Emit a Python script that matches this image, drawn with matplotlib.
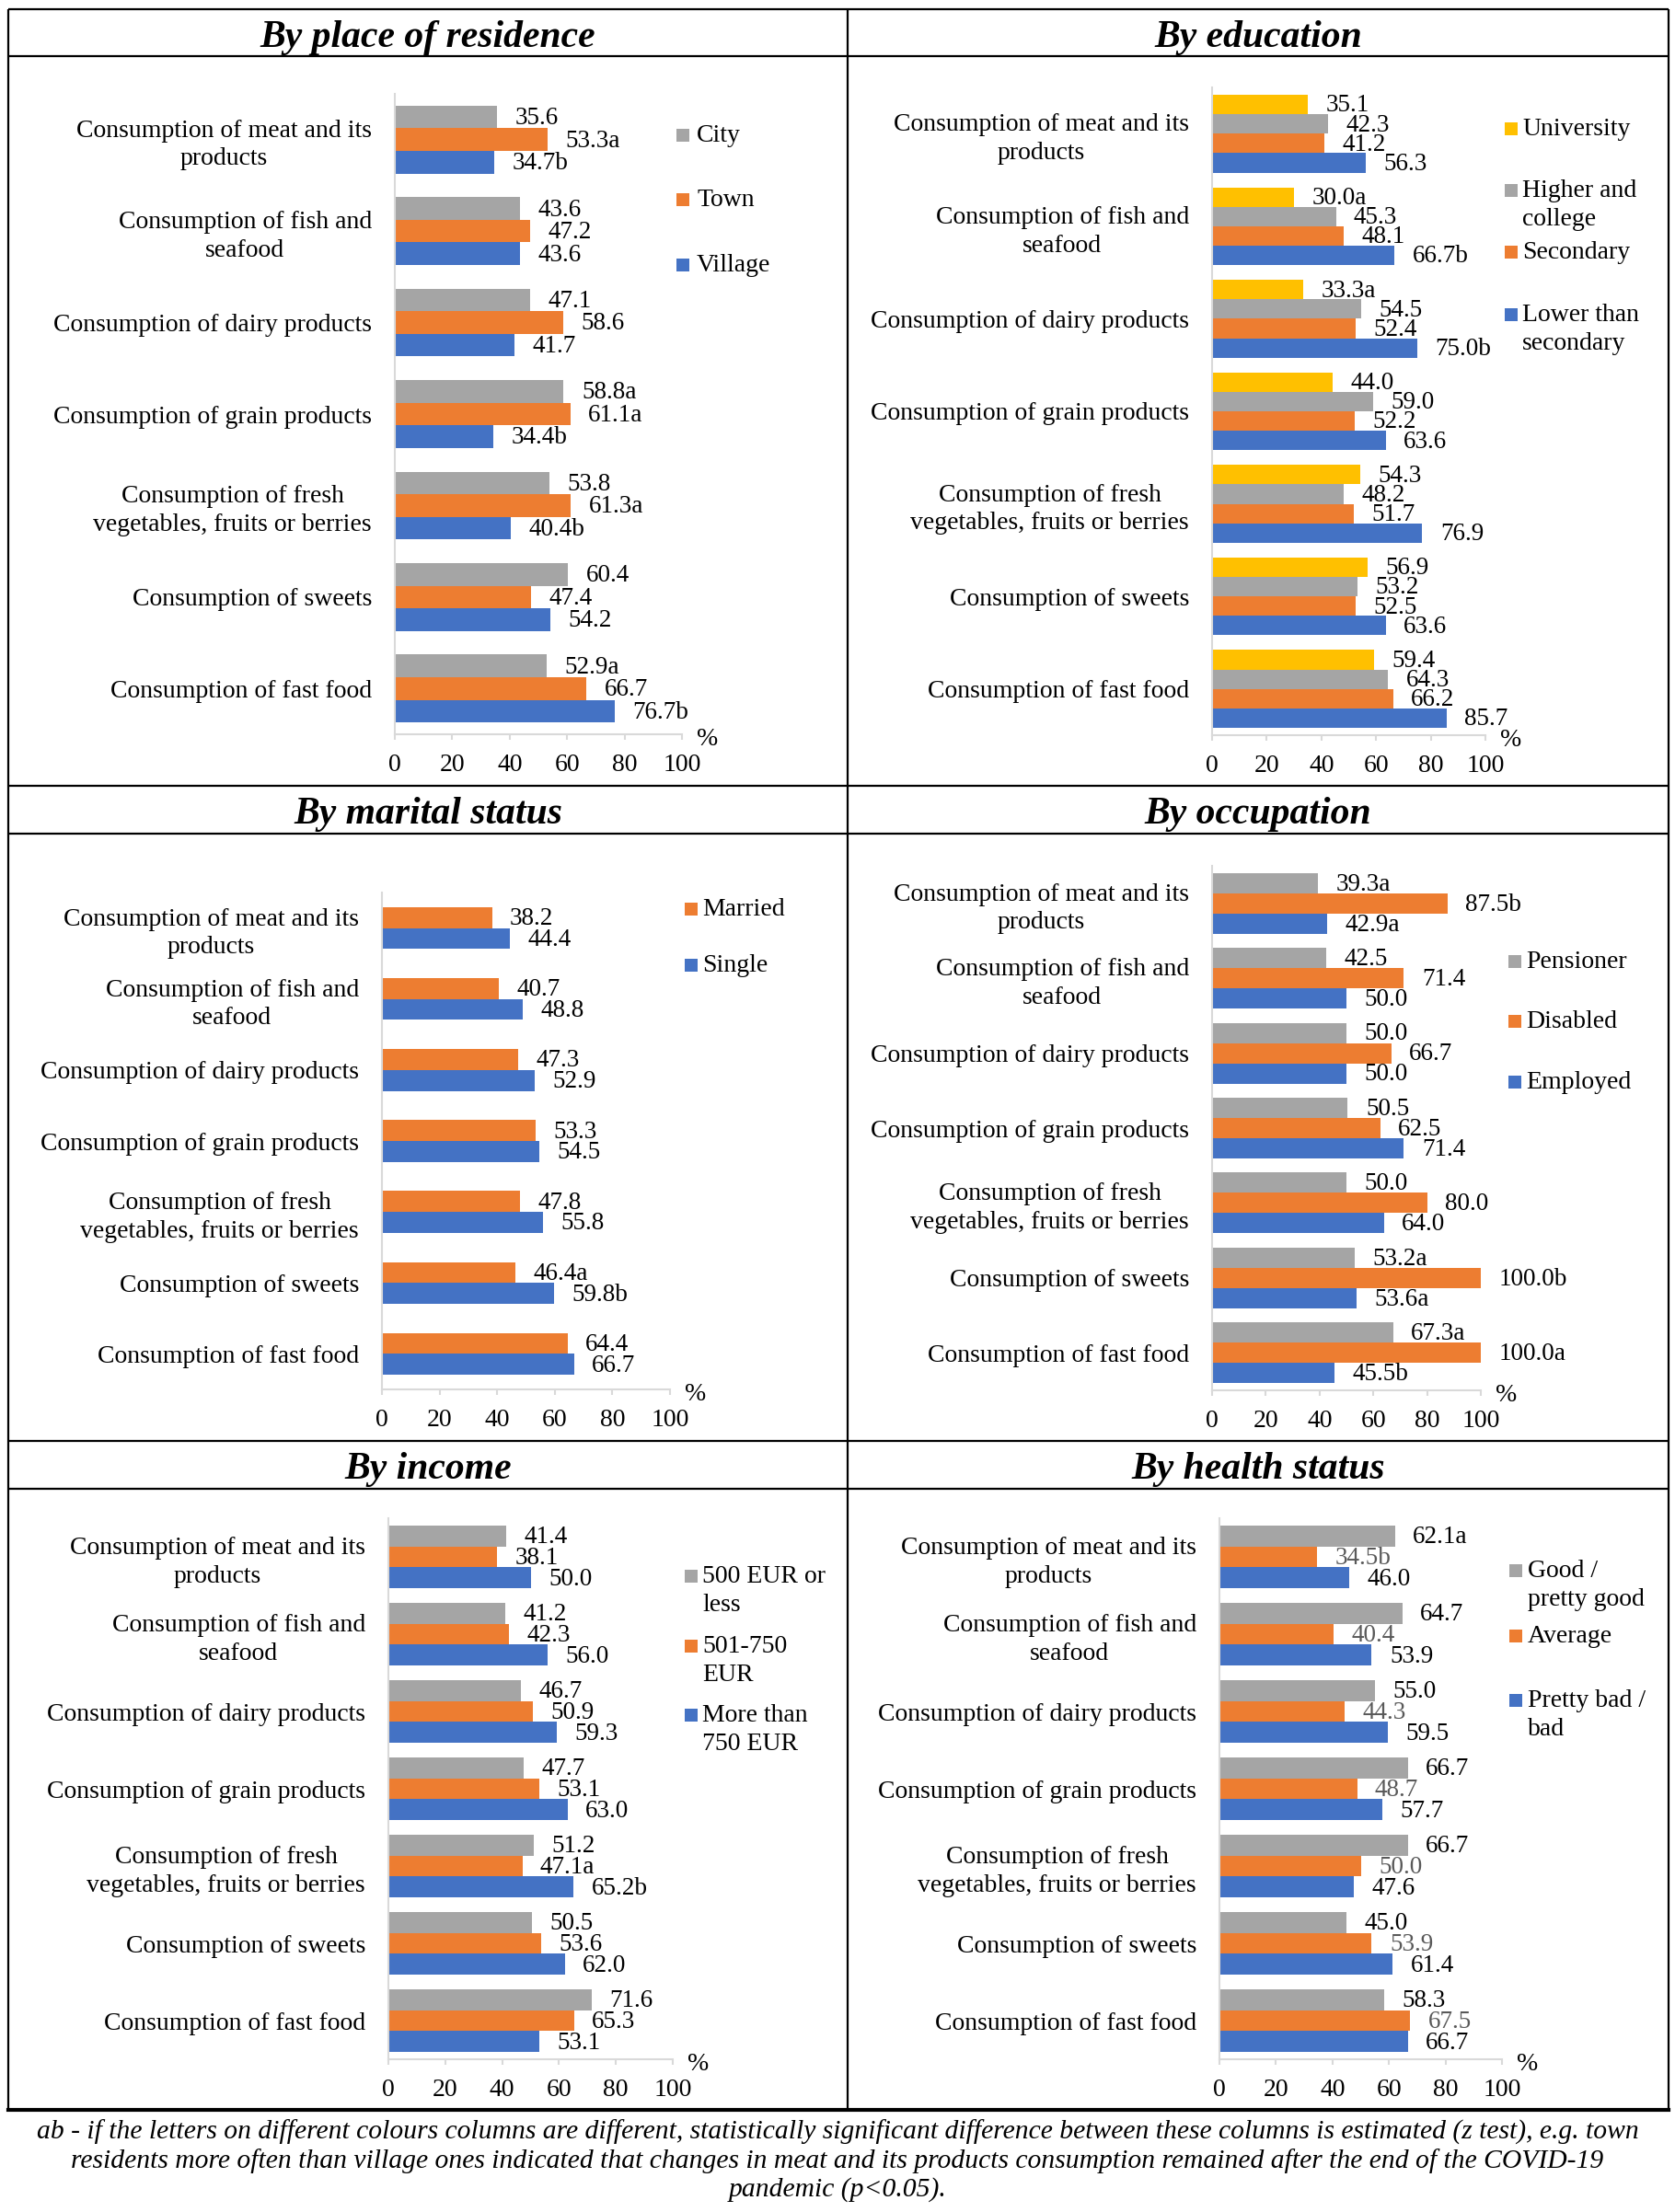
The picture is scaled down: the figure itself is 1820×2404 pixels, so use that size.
import numpy as np
import matplotlib.pyplot as plt
from matplotlib.patches import Rectangle

plt.rcParams['font.family'] = ['Liberation Serif', 'DejaVu Serif']

W, H = 1820, 2404

# ---------------------------------------------------------------
# Data
# ---------------------------------------------------------------
CATEGORIES = [
    "Consumption of meat and its\nproducts",
    "Consumption of fish and\nseafood",
    "Consumption of dairy products",
    "Consumption of grain products",
    "Consumption of fresh\nvegetables, fruits or berries",
    "Consumption of sweets",
    "Consumption of fast food",
]

# By place of residence
RES_NAMES = ["City", "Town", "Village"]
RES_CITY = [35.6, 43.6, 47.1, 58.8, 53.8, 60.4, 52.9]
RES_CITY_SIG = ["", "", "", "a", "", "", "a"]
RES_TOWN = [53.3, 47.2, 58.6, 61.1, 61.3, 47.4, 66.7]
RES_TOWN_SIG = ["a", "", "", "a", "a", "", ""]
RES_VILLAGE = [34.7, 43.6, 41.7, 34.4, 40.4, 54.2, 76.7]
RES_VILLAGE_SIG = ["b", "", "", "b", "b", "", "b"]

# By education
EDU_NAMES = ["University", "Higher and\ncollege", "Secondary", "Lower than\nsecondary"]
EDU_UNI = [35.1, 30.0, 33.3, 44.0, 54.3, 56.9, 59.4]
EDU_UNI_SIG = ["", "a", "a", "", "", "", ""]
EDU_HIGHER = [42.3, 45.3, 54.5, 59.0, 48.2, 53.2, 64.3]
EDU_HIGHER_SIG = [""] * 7
EDU_SEC = [41.2, 48.1, 52.4, 52.2, 51.7, 52.5, 66.2]
EDU_SEC_SIG = [""] * 7
EDU_LOWER = [56.3, 66.7, 75.0, 63.6, 76.9, 63.6, 85.7]
EDU_LOWER_SIG = ["", "b", "b", "", "", "", ""]

# By marital status
MAR_NAMES = ["Married", "Single"]
MAR_MARRIED = [38.2, 40.7, 47.3, 53.3, 47.8, 46.4, 64.4]
MAR_MARRIED_SIG = ["", "", "", "", "", "a", ""]
MAR_SINGLE = [44.4, 48.8, 52.9, 54.5, 55.8, 59.8, 66.7]
MAR_SINGLE_SIG = ["", "", "", "", "", "b", ""]

# By occupation
OCC_NAMES = ["Pensioner", "Disabled", "Employed"]
OCC_PENS = [39.3, 42.5, 50.0, 50.5, 50.0, 53.2, 67.3]
OCC_PENS_SIG = ["a", "", "", "", "", "a", "a"]
OCC_DIS = [87.5, 71.4, 66.7, 62.5, 80.0, 100.0, 100.0]
OCC_DIS_SIG = ["b", "", "", "", "", "b", "a"]
OCC_EMP = [42.9, 50.0, 50.0, 71.4, 64.0, 53.6, 45.5]
OCC_EMP_SIG = ["a", "", "", "", "", "a", "b"]

# By income
INC_NAMES = ["500 EUR or\nless", "501-750\nEUR", "More than\n750 EUR"]
INC_LOW = [41.4, 41.2, 46.7, 47.7, 51.2, 50.5, 71.6]
INC_LOW_SIG = [""] * 7
INC_MID = [38.1, 42.3, 50.9, 53.1, 47.1, 53.6, 65.3]
INC_MID_SIG = ["", "", "", "", "a", "", ""]
INC_HIGH = [50.0, 56.0, 59.3, 63.0, 65.2, 62.0, 53.1]
INC_HIGH_SIG = ["", "", "", "", "b", "", ""]

# By health status
HEA_NAMES = ["Good /\npretty good", "Average", "Pretty bad /\nbad"]
HEA_GOOD = [62.1, 64.7, 55.0, 66.7, 66.7, 45.0, 58.3]
HEA_GOOD_SIG = ["a", "", "", "", "", "", ""]
HEA_AVG = [34.5, 40.4, 44.3, 48.7, 50.0, 53.9, 67.5]
HEA_AVG_SIG = ["b", "", "", "", "", "", ""]
HEA_BAD = [46.0, 53.9, 59.5, 57.7, 47.6, 61.4, 66.7]
HEA_BAD_SIG = [""] * 7

CAPTION = ("ab - if the letters on different colours columns are different, statistically significant "
           "difference between these columns is estimated (z test), e.g. town\nresidents more often than "
           "village ones indicated that changes in meat and its products consumption remained after the "
           "end of the COVID-19\npandemic (p<0.05).")

# ---------------------------------------------------------------
# Styles
# ---------------------------------------------------------------
GREY, ORANGE, BLUE, YELLOW = "#A5A5A5", "#ED7D31", "#4472C4", "#FFC000"
AXIS_GREY = "#D9D9D9"
FS = 20


def panel_axes(fig, x0, x1, y0, y1):
    return fig.add_axes([x0 / W, 1 - y1 / H, (x1 - x0) / W, (y1 - y0) / H])


def draw_panel(ax, bg, series, sigs, names, colors, group_frac, legend,
               label_colors=None):
    n = len(series)
    ypos = np.arange(len(CATEGORIES))
    bh = group_frac / n
    if label_colors is None:
        label_colors = ["black"] * n
    for i, (vals, sg, col, lc) in enumerate(zip(series, sigs, colors, label_colors)):
        yy = ypos - group_frac / 2 + (i + 0.5) * bh
        bars = ax.barh(yy, vals, height=bh, color=col, zorder=2)
        for b, v, s in zip(bars, vals, sg):
            ax.annotate(f"{v:.1f}{s}", (v, b.get_y() + b.get_height() / 2),
                        xytext=(14, -1), textcoords="offset points",
                        ha="left", va="center", fontsize=FS - 0.5, color=lc,
                        annotation_clip=False, zorder=3)
    ax.set_ylim(len(CATEGORIES) - 0.5, -0.5)
    ax.set_xlim(0, 100)
    ax.set_xticks(np.arange(0, 101, 20))
    ax.set_yticks(ypos)
    ax.set_yticklabels(CATEGORIES, fontsize=FS)
    for t in ax.get_yticklabels():
        t.set_multialignment("center")
        t.set_linespacing(1.3)
    ax.tick_params(axis="y", length=0, pad=18)
    ax.tick_params(axis="x", length=4, width=1.5, color=AXIS_GREY, pad=11,
                   labelsize=FS, direction="out")
    for side in ["top", "right"]:
        ax.spines[side].set_visible(False)
    for side in ["left", "bottom"]:
        ax.spines[side].set_color(AXIS_GREY)
        ax.spines[side].set_linewidth(1.5)
    ax.patch.set_alpha(0)
    ax.annotate("%", (1, 0), xycoords="axes fraction", xytext=(20, -4),
                textcoords="offset points", ha="center", va="center",
                fontsize=FS, annotation_clip=False)

    # Excel-style legend: small square aligned with the first line of text
    sq_x, tx_x, ys = legend
    for name, col, y in zip(names, colors, ys):
        bg.add_patch(Rectangle((sq_x, y - 7), 14, 14, color=col, lw=0))
        bg.text(tx_x, y - 12, name, ha="left", va="top", fontsize=FS,
                linespacing=1.3)


fig = plt.figure(figsize=(W / 100, H / 100), dpi=100)
bg = fig.add_axes([0, 0, 1, 1], zorder=0)
bg.set_xlim(0, W)
bg.set_ylim(H, 0)
bg.axis("off")

# table frame
LEFT, RIGHT, MID = 9, 1813, 921
TOP, BOTTOM = 10, 2293
ROW_LINES = [61, 854, 906, 1566, 1618]
kw = dict(color="black", lw=1.6, solid_capstyle="butt")
for y in [TOP] + ROW_LINES:
    bg.plot([LEFT, RIGHT], [y, y], **kw)
bg.plot([LEFT, RIGHT], [BOTTOM, BOTTOM], color="black", lw=3)
for x in [LEFT, MID, RIGHT]:
    bg.plot([x, x], [TOP, BOTTOM], **kw)

TITLES = [("By place of residence", 41), ("By education", 41),
          ("By marital status", 885), ("By occupation", 885),
          ("By income", 1597), ("By health status", 1597)]
for k, (title, ty) in enumerate(TITLES):
    cx = (LEFT + MID) / 2 if k % 2 == 0 else (MID + RIGHT) / 2
    bg.text(cx, ty, title, ha="center", va="center", fontsize=30,
            fontweight="bold", fontstyle="italic")

bg.text(W / 2, 2348, CAPTION, ha="center", va="center", fontsize=21.3,
        fontstyle="italic", linespacing=1.2)

# panels
ax1 = panel_axes(fig, 429, 741, 102, 798)
draw_panel(ax1, bg, [RES_CITY, RES_TOWN, RES_VILLAGE],
           [RES_CITY_SIG, RES_TOWN_SIG, RES_VILLAGE_SIG], RES_NAMES,
           [GREY, ORANGE, BLUE], 0.74, (735, 757, [147, 217, 288]))

ax2 = panel_axes(fig, 1317, 1614, 95, 799)
draw_panel(ax2, bg, [EDU_UNI, EDU_HIGHER, EDU_SEC, EDU_LOWER],
           [EDU_UNI_SIG, EDU_HIGHER_SIG, EDU_SEC_SIG, EDU_LOWER_SIG], EDU_NAMES,
           [YELLOW, GREY, ORANGE, BLUE], 0.84, (1635, 1654, [140, 207, 274, 342]))

ax3 = panel_axes(fig, 415, 728, 970, 1510)
draw_panel(ax3, bg, [MAR_MARRIED, MAR_SINGLE], [MAR_MARRIED_SIG, MAR_SINGLE_SIG],
           MAR_NAMES, [ORANGE, BLUE], 0.59, (744, 763, [988, 1049]))

ax4 = panel_axes(fig, 1317, 1609, 941, 1511)
draw_panel(ax4, bg, [OCC_PENS, OCC_DIS, OCC_EMP], [OCC_PENS_SIG, OCC_DIS_SIG, OCC_EMP_SIG],
           OCC_NAMES, [GREY, ORANGE, BLUE], 0.81, (1639, 1658, [1045, 1110, 1176]))

ax5 = panel_axes(fig, 422, 731, 1650, 2238)
draw_panel(ax5, bg, [INC_LOW, INC_MID, INC_HIGH], [INC_LOW_SIG, INC_MID_SIG, INC_HIGH_SIG],
           INC_NAMES, [GREY, ORANGE, BLUE], 0.81, (744, 763, [1713, 1789, 1864]))

ax6 = panel_axes(fig, 1325, 1632, 1650, 2238)
draw_panel(ax6, bg, [HEA_GOOD, HEA_AVG, HEA_BAD], [HEA_GOOD_SIG, HEA_AVG_SIG, HEA_BAD_SIG],
           HEA_NAMES, [GREY, ORANGE, BLUE], 0.81, (1640, 1660, [1707, 1778, 1848]),
           label_colors=["black", "#595959", "black"])

fig.savefig("out.png", dpi=100, facecolor="white")
